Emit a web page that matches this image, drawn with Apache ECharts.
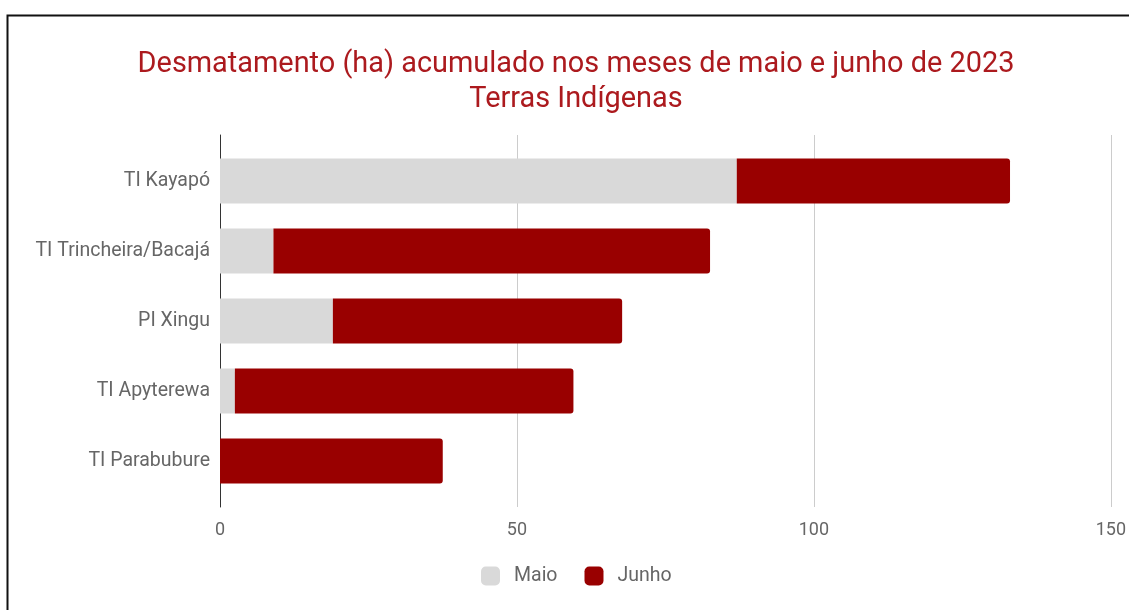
<!DOCTYPE html>
<html><head><meta charset="utf-8">
<script src="https://cdn.jsdelivr.net/npm/echarts@6/dist/echarts.min.js"></script>
<style>html,body{margin:0;padding:0;background:#fff}#c{width:1129px;height:610px}</style>
</head><body><div id="c"></div>
<script>
const categories = ['TI Kayapó','TI Trincheira/Bacajá','PI Xingu','TI Apyterewa','TI Parabubure'];
const maio = [87, 9, 19, 2.5, 0];
const junho = [46, 73.5, 48.7, 57, 37.5];
const xTicks = [0, 50, 100, 150];
const titleLines = ['Desmatamento (ha) acumulado nos meses de maio e junho de 2023','Terras Indígenas'];

const chart = echarts.init(document.getElementById('c'));
const font = 'Roboto';
chart.setOption({
  animation: false,
  backgroundColor: '#fff',
  textStyle: {fontFamily: font},
  graphic: [{type:'rect', left: 5, top: 13, shape:{width: 1200, height: 700}, style:{fill:'none', stroke:'#111', lineWidth:2}, silent:true}],
  title: {
    text: titleLines.join('\n'),
    left: 571, top: 42, textAlign: 'center',
    textStyle: {color:'#ac1a1e', fontSize: 28.9, fontWeight: 'normal', fontFamily: font, lineHeight: 35}
  },
  legend: {
    bottom: 19, left: 476, itemWidth: 19, itemHeight: 19, itemGap: 27,
    textStyle: {color:'#666', fontSize: 19.5, fontFamily: font, padding:[0,0,0,9]},
    data: [{name:'Maio', itemStyle:{borderRadius:2}}, {name:'Junho', itemStyle:{borderRadius:2}}]
  },
  grid: [
    {left: 220, width: 891, top: 135, height: 372},
    {left: 220, width: 891, top: 146, height: 350}
  ],
  xAxis: [
    {gridIndex: 0, type:'value', min: xTicks[0], max: xTicks[xTicks.length-1], interval: 50,
     axisLine:{show:false}, axisTick:{show:false},
     axisLabel:{color:'#666', fontSize: 18, margin: 14, fontFamily: font},
     splitLine:{lineStyle:{color:'#cccccc', width:1}}},
    {gridIndex: 1, type:'value', min: xTicks[0], max: xTicks[xTicks.length-1], interval: 50,
     show: false}
  ],
  yAxis: [
    {gridIndex: 0, type:'value', min:0, max:1, axisLine:{show:true, lineStyle:{color:'#333', width:1}}, axisTick:{show:false}, axisLabel:{show:false}, splitLine:{show:false}},
    {gridIndex: 1, type:'category', inverse: true, data: categories,
     axisLine:{show:false}, axisTick:{show:false},
     axisLabel:{color:'#666', fontSize: 19.5, margin: 10, fontFamily: font}}
  ],
  series: [
    {name:'Maio', type:'bar', stack:'t', xAxisIndex:1, yAxisIndex:1, barWidth: 45, data: maio,
     itemStyle:{color:'#d9d9d9'}},
    {name:'Junho', type:'bar', stack:'t', xAxisIndex:1, yAxisIndex:1, barWidth: 45, data: junho,
     itemStyle:{color:'#990000', borderRadius:[0,3,3,0]}}
  ]
});
</script></body></html>
